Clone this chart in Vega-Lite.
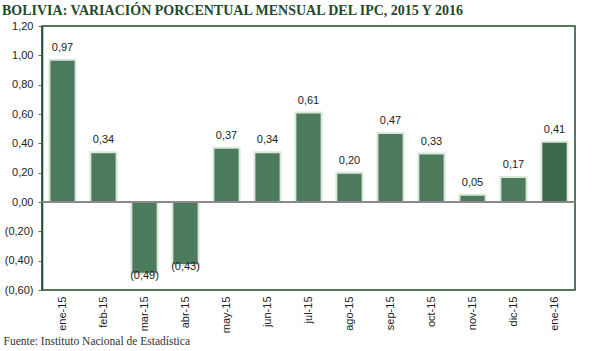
{
  "$schema": "https://vega.github.io/schema/vega-lite/v6.json",
  "width": 533,
  "height": 264,
  "autosize": {"type": "none"},
  "padding": {"left": 42, "top": 26, "right": 25, "bottom": 61},
  "background": "white",
  "title": {
    "text": "BOLIVIA: VARIACIÓN PORCENTUAL MENSUAL DEL IPC, 2015 Y 2016",
    "anchor": "start",
    "frame": "group",
    "dx": -40,
    "offset": 2,
    "font": "Liberation Serif",
    "fontSize": 14,
    "fontWeight": "bold",
    "color": "#1f4a2c"
  },
  "config": {
    "view": {"stroke": "#1f4a2c", "strokeWidth": 1.5},
    "axis": {"labelFont": "Liberation Sans", "labelFontSize": 11, "labelColor": "#222222", "grid": false}
  },
  "data": {
    "values": [
      {"mes": "ene-15", "valor": 0.97, "etiqueta": "0,97", "serie": "2015"},
      {"mes": "feb-15", "valor": 0.34, "etiqueta": "0,34", "serie": "2015"},
      {"mes": "mar-15", "valor": -0.49, "etiqueta": "(0,49)", "serie": "2015"},
      {"mes": "abr-15", "valor": -0.43, "etiqueta": "(0,43)", "serie": "2015"},
      {"mes": "may-15", "valor": 0.37, "etiqueta": "0,37", "serie": "2015"},
      {"mes": "jun-15", "valor": 0.34, "etiqueta": "0,34", "serie": "2015"},
      {"mes": "jul-15", "valor": 0.61, "etiqueta": "0,61", "serie": "2015"},
      {"mes": "ago-15", "valor": 0.20, "etiqueta": "0,20", "serie": "2015"},
      {"mes": "sep-15", "valor": 0.47, "etiqueta": "0,47", "serie": "2015"},
      {"mes": "oct-15", "valor": 0.33, "etiqueta": "0,33", "serie": "2015"},
      {"mes": "nov-15", "valor": 0.05, "etiqueta": "0,05", "serie": "2015"},
      {"mes": "dic-15", "valor": 0.17, "etiqueta": "0,17", "serie": "2015"},
      {"mes": "ene-16", "valor": 0.41, "etiqueta": "0,41", "serie": "2016"}
    ]
  },
  "encoding": {
    "x": {
      "field": "mes",
      "type": "nominal",
      "sort": null,
      "scale": {"paddingInner": 0.36, "paddingOuter": 0.18},
      "axis": {
        "labelAngle": -90,
        "labelPadding": 6,
        "ticks": false,
        "domain": false,
        "title": "Fuente: Instituto Nacional de Estadística",
        "titleFont": "Liberation Serif",
        "titleFontSize": 11.5,
        "titleFontWeight": "normal",
        "titleColor": "#333333",
        "titleAnchor": "start",
        "titleAlign": "left",
        "titleBaseline": "alphabetic",
        "titleX": -39,
        "titleY": 54
      }
    },
    "y": {
      "field": "valor",
      "type": "quantitative",
      "scale": {"domain": [-0.6, 1.2], "nice": false},
      "axis": {
        "values": [-0.6, -0.4, -0.2, 0, 0.2, 0.4, 0.6, 0.8, 1.0, 1.2],
        "labelExpr": "datum.value < -0.001 ? '(' + replace(format(-datum.value, '.2f'), '.', ',') + ')' : replace(format(abs(datum.value), '.2f'), '.', ',')",
        "title": null,
        "domainColor": "#1f4a2c",
        "domainWidth": 1.5,
        "tickColor": "#666666",
        "tickSize": 4,
        "labelPadding": 5
      }
    }
  },
  "layer": [
    {
      "mark": {"type": "bar", "stroke": "#dbe7da", "strokeWidth": 2},
      "encoding": {
        "color": {
          "field": "serie",
          "type": "nominal",
          "scale": {"domain": ["2015", "2016"], "range": ["#4b7a5c", "#3a684a"]},
          "legend": null
        }
      }
    },
    {
      "mark": {"type": "rule", "color": "#888888", "strokeWidth": 1},
      "encoding": {"y": {"datum": 0}, "x": {"value": 0}, "x2": {"value": 533}}
    },
    {
      "transform": [{"filter": "datum.valor >= 0"}],
      "mark": {"type": "text", "baseline": "bottom", "dy": -7, "font": "Liberation Sans", "fontSize": 11, "color": "#222222"},
      "encoding": {"text": {"field": "etiqueta"}}
    },
    {
      "transform": [{"filter": "datum.valor < 0"}],
      "mark": {"type": "text", "baseline": "middle", "dy": 2, "font": "Liberation Sans", "fontSize": 11, "color": "#222222"},
      "encoding": {"text": {"field": "etiqueta"}}
    }
  ]
}
